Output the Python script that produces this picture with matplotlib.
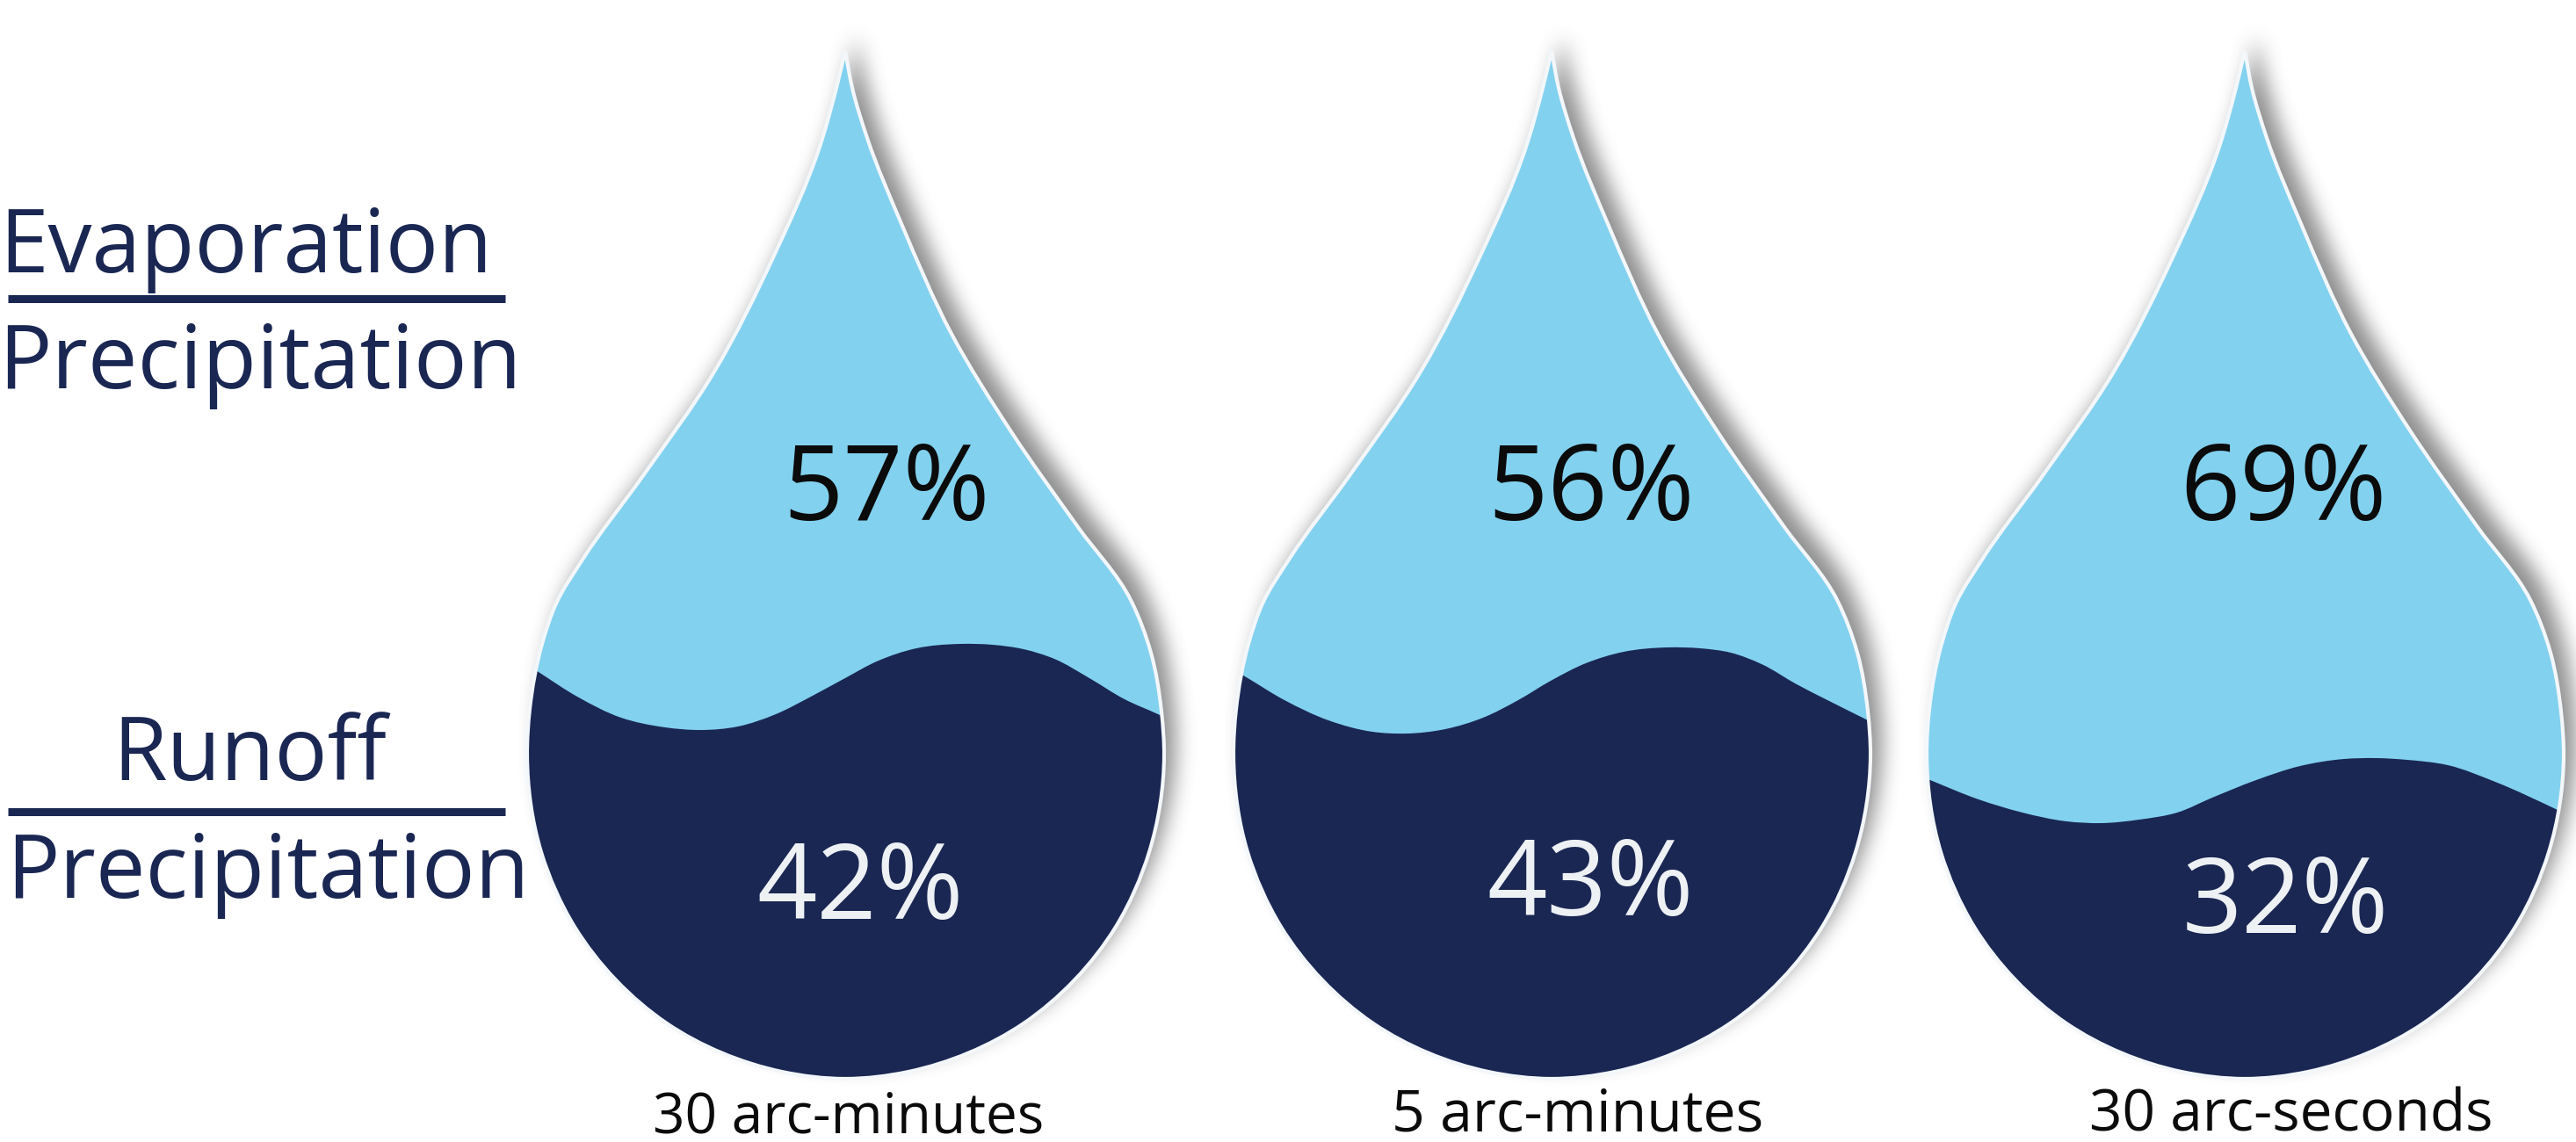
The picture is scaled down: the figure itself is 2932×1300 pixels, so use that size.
import numpy as np
import matplotlib
matplotlib.use("Agg")
import matplotlib.pyplot as plt
from matplotlib.path import Path
from matplotlib.patches import PathPatch

plt.rcParams["font.family"] = ["Open Sans", "DejaVu Sans"]

NAVY = "#1a2753"
SKY = "#82d1ef"

# drop outline for the first panel, clockwise from the tip
outline_x = [962, 970, 987, 1027, 1083, 1150, 1227, 1287, 1310, 1322, 1325,
             1308, 1270, 1165, 1034, 962,
             890, 759, 654, 616, 600, 603, 617, 633, 663, 733, 813, 880, 933, 952]
outline_y = [58, 100, 157, 257, 380, 490, 600, 683, 743, 810, 860,
             970, 1055, 1165, 1220, 1228,
             1220, 1165, 1055, 970, 860, 807, 733, 687, 637, 540, 423, 293, 167, 100]

panel_shift = [0, 804, 1593]
panel_names = ["30 arc-minutes", "5 arc-minutes", "30 arc-seconds"]
evap_pct = [57, 56, 69]
runoff_pct = [42, 43, 32]

# surface between the two water layers
wave_x = [
    [596, 613, 657, 707, 757, 797, 840, 883, 923, 960, 1000, 1043, 1093, 1130, 1165, 1200, 1240, 1280, 1318, 1335],
    [1400, 1417, 1462, 1512, 1562, 1602, 1645, 1688, 1728, 1765, 1805, 1848, 1898, 1935, 1970, 2005, 2045, 2082, 2120, 2140],
    [2180, 2197, 2252, 2302, 2352, 2392, 2435, 2478, 2518, 2568, 2618, 2668, 2705, 2740, 2786, 2840, 2911, 2930],
]
wave_y = [
    [754, 765, 793, 817, 828, 831, 827, 813, 793, 773, 752, 738, 733, 734, 739, 750, 772, 796, 813, 821],
    [760, 770, 797, 820, 833, 835, 830, 817, 797, 775, 755, 742, 737, 738, 743, 756, 779, 798, 817, 827],
    [881, 888, 910, 925, 935, 937, 933, 925, 908, 888, 872, 864, 863, 865, 871, 890, 922, 931],
]

evap_label_x = [1009, 1811, 2599]
evap_label_y = [592, 592, 592]
runoff_label_x = [979, 1810, 2601]
runoff_label_y = [1046, 1042, 1062]
name_label_x = [966, 1796, 2608]
name_label_y = [1289, 1288, 1288]
name_label_size = [46, 47.7, 47.3]


def smooth_path(xs, ys):
    # Hermite curve with chord-weighted tangents, written out as cubic segments
    pts = np.column_stack([xs, ys]).astype(float)
    n = len(pts)
    chords = np.hypot(*np.diff(pts, axis=0).T)
    slopes = np.diff(pts, axis=0) / chords[:, None]
    tangents = np.zeros_like(pts)
    tangents[0] = slopes[0]
    tangents[-1] = slopes[-1]
    for i in range(1, n - 1):
        a, b = chords[i - 1], chords[i]
        tangents[i] = (b * slopes[i - 1] + a * slopes[i]) / (a + b)
    verts = [pts[0]]
    codes = [Path.MOVETO]
    for i in range(n - 1):
        verts += [pts[i] + tangents[i] * chords[i] / 3,
                  pts[i + 1] - tangents[i + 1] * chords[i] / 3,
                  pts[i + 1]]
        codes += [Path.CURVE4] * 3
    return verts, codes


def drop_path(shift):
    # the tip stays sharp, so the curve runs open from tip back to tip
    xs = np.array(outline_x + outline_x[:1]) + shift
    ys = outline_y + outline_y[:1]
    verts, codes = smooth_path(xs, ys)
    return Path(verts, codes)


def box_blur(a, size, axis):
    kernel = np.ones(size) / size
    return np.apply_along_axis(lambda r: np.convolve(r, kernel, mode="same"), axis, a)


def draw_shadow(ax, path, dx=12, dy=-17):
    # blurred copy of the drop, nudged up and to the right
    step = 2
    x0, y0 = path.vertices.min(axis=0) - 70
    x1, y1 = path.vertices.max(axis=0) + 70
    gx, gy = np.meshgrid(np.arange(x0, x1, step), np.arange(y0, y1, step))
    moved = Path(path.vertices + np.array([dx, dy]), path.codes)
    mask = moved.contains_points(np.column_stack([gx.ravel(), gy.ravel()])).reshape(gx.shape).astype(float)
    for _ in range(3):
        mask = box_blur(box_blur(mask, 11, 0), 11, 1)
    rgba = np.zeros(mask.shape + (4,))
    rgba[..., :3] = 0.2
    rgba[..., 3] = mask * 0.55
    ax.imshow(rgba, extent=(x0, gx[0, -1] + step, gy[-1, 0] + step, y0), aspect="auto",
              interpolation="bilinear", zorder=1)


fig = plt.figure(figsize=(29.32, 13), dpi=100)
ax = fig.add_axes([0, 0, 1, 1])

for i, shift in enumerate(panel_shift):
    path = drop_path(shift)
    draw_shadow(ax, path)

    ax.add_patch(PathPatch(path, fc=SKY, ec="none", zorder=2))

    # navy layer, clipped to the drop
    verts, codes = smooth_path(wave_x[i], wave_y[i])
    verts = verts + [(wave_x[i][-1], 1300), (wave_x[i][0], 1300), verts[0]]
    codes = codes + [Path.LINETO, Path.LINETO, Path.CLOSEPOLY]
    water = PathPatch(Path(verts, codes), fc=NAVY, ec="none", zorder=3)
    ax.add_patch(water)
    water.set_clip_path(PathPatch(path, transform=ax.transData))

    # pale rim
    ax.add_patch(PathPatch(path, fc="none", ec="#f3f7fa", lw=3.0, zorder=4, joinstyle="miter"))

    ax.text(evap_label_x[i], evap_label_y[i], f"{evap_pct[i]}%", color="#0b0b0b", fontsize=86,
            ha="center", va="baseline", zorder=5)
    ax.text(runoff_label_x[i], runoff_label_y[i], f"{runoff_pct[i]}%", color="#eef1f4", fontsize=86,
            ha="center", va="baseline", zorder=5)
    ax.text(name_label_x[i], name_label_y[i], panel_names[i], color="#0b0b0b", fontsize=name_label_size[i],
            ha="center", va="baseline", zorder=5)

# fraction labels on the left
ax.text(280, 284, "Evaporation", color=NAVY, fontsize=72, ha="center", va="center")
ax.text(296, 416, "Precipitation", color=NAVY, fontsize=72.5, ha="center", va="center")
ax.text(284, 862, "Runoff", color=NAVY, fontsize=72, ha="center", va="center")
ax.text(305, 996, "Precipitation", color=NAVY, fontsize=72.5, ha="center", va="center")
ax.plot([9, 575], [340, 340], color=NAVY, lw=6.5, solid_capstyle="butt")
ax.plot([9, 575], [924, 924], color=NAVY, lw=6.5, solid_capstyle="butt")

ax.set_xlim(0, 2932)
ax.set_ylim(1300, 0)
ax.axis("off")

fig.savefig("out.png", dpi=100, facecolor="white")
